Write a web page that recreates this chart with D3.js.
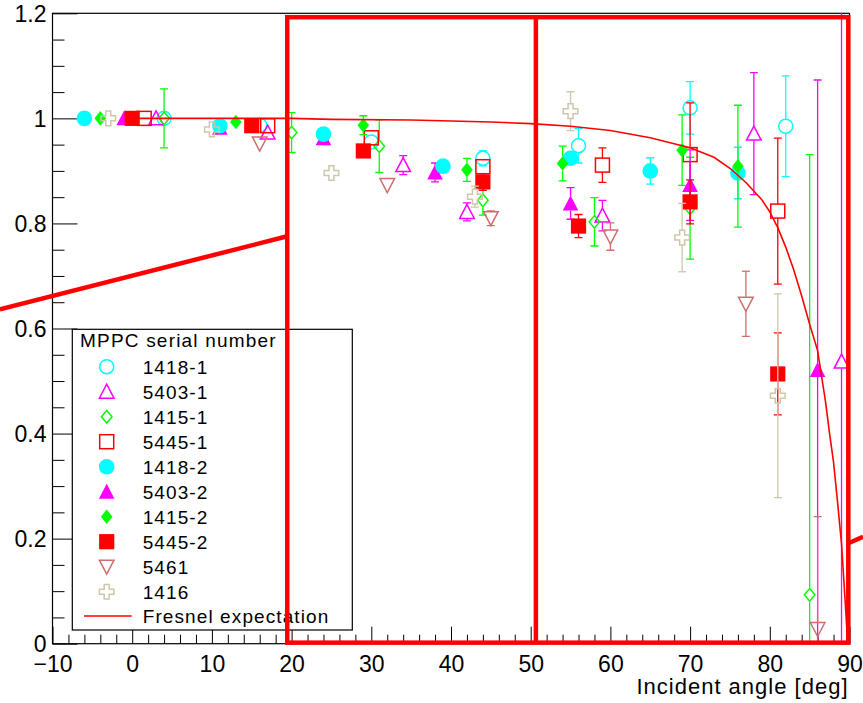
<!DOCTYPE html>
<html>
<head>
<meta charset="utf-8">
<script src="https://cdn.jsdelivr.net/npm/d3@7"></script>
<style>
	body { margin: 0; background: #fff; }
	svg { display: block; font-family: "Liberation Sans", Arial, Helvetica, sans-serif; }
</style>
</head>
<body>
<svg id="chart" width="863" height="703"></svg>
<script>
// each point: [incident angle (deg), relative yield, error]
var s1418_1 = [[4, 1.0, 0.005], [16, 0.987, 0.005], [30, 0.955, 0.01], [44, 0.924, 0.0145], [56, 0.948, 0.033], [70, 1.02, 0.05], [82, 0.985, 0.096]];
var s5403_1 = [[3, 1.0, 0.005], [17, 0.973, 0.01], [34, 0.911, 0.018], [42, 0.822, 0.017], [59, 0.815, 0.029], [78, 0.971, 0.116], [89, 0.537, 0.72]];
var s1415_1 = [[4, 1.0, 0.056], [20, 0.973, 0.038], [31, 0.947, 0.05], [44, 0.844, 0.028], [58, 0.803, 0.046], [70, 0.829, 0.097], [85, 0.093, 0.838]];
var s5445_1 = [[1.5, 1.0, 0.005], [17, 0.986, 0.005], [30, 0.963, 0.01], [44, 0.908, 0.01], [59, 0.911, 0.033], [70, 0.931, 0.0985], [81, 0.8235, 0.139]];
var s1418_2 = [[-6, 1.0, 0.005], [11, 0.986, 0.005], [24, 0.970, 0.01], [39, 0.909, 0.01], [55, 0.924, 0.012], [65, 0.900, 0.025], [76, 0.896, 0.049]];
var s5403_2 = [[-1, 1.0, 0.005], [11, 0.982, 0.005], [24, 0.962, 0.01], [38, 0.897, 0.018], [55, 0.838, 0.03], [70, 0.873, 0.067], [86, 0.521, 0.552]];
var s1415_2 = [[-4, 1.0, 0.005], [13, 0.993, 0.005], [29, 0.987, 0.018], [42, 0.902, 0.022], [54, 0.914, 0.033], [69, 0.9395, 0.067], [76, 0.909, 0.116]];
var s5445_2 = [[0, 1.0, 0.005], [15, 0.986, 0.005], [29, 0.938, 0.01], [44, 0.879, 0.016], [56, 0.795, 0.022], [70, 0.841, 0.042], [81, 0.5135, 0.078]];
var s5461 = [[16, 0.952, 0.005], [32, 0.873, 0.01], [45, 0.81, 0.014], [60, 0.775, 0.026], [77, 0.647, 0.062], [86, 0.028, 0.214]];
var s1416 = [[-3, 1.0, 0.005], [10, 0.979, 0.005], [25, 0.896, 0.01], [43, 0.851, 0.02], [55, 1.0137, 0.037], [69, 0.773, 0.065], [81, 0.472, 0.194]];

var seriesNames = ['1418-1', '5403-1', '1415-1', '5445-1', '1418-2', '5403-2', '1415-2', '5445-2', '5461', '1416'];
var seriesData = [s1418_1, s5403_1, s1415_1, s5445_1, s1418_2, s5403_2, s1415_2, s5445_2, s5461, s1416];
var seriesColors = ['#00ffff', '#ff00ff', '#00ff00', '#ff0000', '#00ffff', '#ff00ff', '#00ff00', '#ff0000', '#cf6e6e', '#cdc7aa'];
var seriesMarkers = ['openCircle', 'openTriUp', 'openDiamond', 'openSquare', 'fullCircle', 'fullTriUp', 'fullDiamond', 'fullSquare', 'openTriDown', 'openCross'];
var drawOrder = [0, 1, 2, 3, 5, 4, 6, 7, 8, 9];

// Fresnel expectation
var fresnelAngle = [0, 20, 25, 35, 40, 45, 50, 55, 60, 65, 70, 73, 75, 77, 79, 80, 81, 82, 83, 84, 85, 86, 87, 87.5, 88, 88.5, 89, 89.5, 89.7, 90];
var fresnelValue = [1.0, 1.0, 0.998, 0.997, 0.995, 0.993, 0.990, 0.985, 0.977, 0.963, 0.944, 0.926, 0.905, 0.878, 0.845, 0.822, 0.792, 0.755, 0.712, 0.662, 0.608, 0.558, 0.46, 0.4, 0.345, 0.27, 0.19, 0.07, 0.02, 0.0];

var xMajor = [-10, 0, 10, 20, 30, 40, 50, 60, 70, 80, 90];
var yMajor = [0, 0.2, 0.4, 0.6, 0.8, 1.0, 1.2];

// red overlay (in data units)
var zoomBox = {x0: 19.45, x1: 89.85, y0: 0.002, y1: 1.1926};
var zoomSplit = 50.65;
var guideLeft = [[-16.6, 0.6366], [19.45, 0.7755]];
var guideRight = [[89.85, 0.1911], [91.7, 0.2037]];

function chart(el)
{
	var frame = {left: 52.5, right: 849.5, top: 13.3, bottom: 643.7};
	var x = d3.scaleLinear().domain([-10, 90]).range([frame.left, frame.right]);
	var y = d3.scaleLinear().domain([0, 1.2]).range([frame.bottom, frame.top]);

	var svg = d3.select(el);

	svg.append('clipPath').attr('id', 'frameclip')
		.append('rect')
		.attr('x', frame.left).attr('y', frame.top)
		.attr('width', frame.right - frame.left).attr('height', frame.bottom - frame.top);

	// ticks (inside the frame, ROOT style)
	var xMinor = d3.range(-10, 91, 2).filter(function(d) { return xMajor.indexOf(d) < 0 });
	var yMinor = d3.range(0, 1.2, 0.05).filter(function(d, i) { return i % 4 != 0 });

	svg.append('g')
		.attr('transform', 'translate(0,' + frame.bottom + ')')
		.call(d3.axisBottom(x).tickValues(xMinor).tickSize(-9).tickFormat(''))
		.call(function(g) { g.select('.domain').remove() });

	svg.append('g')
		.attr('transform', 'translate(0,' + frame.bottom + ')')
		.call(d3.axisBottom(x).tickValues(xMajor).tickSize(-17).tickPadding(12))
		.call(function(g) { g.select('.domain').remove() })
		.attr('font-size', 23).attr('font-family', null);

	svg.append('g')
		.attr('transform', 'translate(' + frame.left + ',0)')
		.call(d3.axisLeft(y).tickValues(yMinor).tickSize(-12).tickFormat(''))
		.call(function(g) { g.select('.domain').remove() });

	svg.append('g')
		.attr('transform', 'translate(' + frame.left + ',0)')
		.call(d3.axisLeft(y).tickValues(yMajor).tickSize(-25).tickPadding(6).tickFormat(d3.format('~g')))
		.call(function(g) { g.select('.domain').remove() })
		.attr('font-size', 23).attr('font-family', null)
		.selectAll('text').attr('dy', '0.36em');

	svg.append('rect')
		.attr('x', frame.left).attr('y', frame.top)
		.attr('width', frame.right - frame.left).attr('height', frame.bottom - frame.top)
		.attr('fill', 'none').attr('stroke', '#000').attr('stroke-width', 1.2);

	svg.append('text')
		.attr('x', x(90) - 1).attr('y', 694)
		.attr('text-anchor', 'end')
		.attr('font-size', 22)
		.style('letter-spacing', '1px')
		.text('Incident angle [deg]');

	// data
	var plot = svg.append('g').attr('clip-path', 'url(#frameclip)');
	var half = 7;

	drawOrder.forEach(function(i) {
		var color = seriesColors[i];
		var pts = plot.append('g').attr('class', 'graph')
			.selectAll('.pt').data(seriesData[i]).enter().append('g')
			.attr('class', 'pt')
			.attr('transform', function(d) { return 'translate(' + x(d[0]) + ',' + y(d[1]) + ')' });

		pts.each(function(d) {
			var p = d3.select(this);
			var e = y(d[1]) - y(d[1] + d[2]);
			if (e > half) {
				[-1, 1].forEach(function(s) {
					p.append('line').attr('x1', 0).attr('x2', 0)
						.attr('y1', s * half).attr('y2', s * e)
						.attr('stroke', color).attr('stroke-width', 1.3);
					p.append('line').attr('x1', -4).attr('x2', 4)
						.attr('y1', s * e).attr('y2', s * e)
						.attr('stroke', color).attr('stroke-width', 1.3);
				});
			}
			marker(p, seriesMarkers[i], color);
		});
	});

	var fresnel = d3.zip(fresnelAngle, fresnelValue);
	plot.append('path')
		.datum(fresnel)
		.attr('fill', 'none')
		.attr('stroke', '#ff0000')
		.attr('stroke-width', 1.6)
		.attr('d', d3.line().x(function(d) { return x(d[0]) }).y(function(d) { return y(d[1]) }));

	// legend
	var lg = {x: 72.3, y: 329.3, w: 280, h: 300.7, row0: 366.7, step: 25, mx: 106.7, tx: 142.7};
	var legend = svg.append('g');
	legend.append('rect')
		.attr('x', lg.x).attr('y', lg.y).attr('width', lg.w).attr('height', lg.h)
		.attr('fill', '#fff').attr('stroke', '#000').attr('stroke-width', 1.2);
	legend.append('text')
		.attr('x', 80).attr('y', 346.7)
		.attr('font-size', 19).style('letter-spacing', '1.2px')
		.text('MPPC serial number');

	seriesNames.forEach(function(name, i) {
		var cy = lg.row0 + i * lg.step;
		var m = legend.append('g').attr('transform', 'translate(' + lg.mx + ',' + cy + ')');
		marker(m, seriesMarkers[i], seriesColors[i]);
		legend.append('text')
			.attr('x', lg.tx).attr('y', cy + 6.8)
			.attr('font-size', 19).style('letter-spacing', '1.1px')
			.text(name);
	});
	var fy = lg.row0 + seriesNames.length * lg.step - 0.7;
	legend.append('line')
		.attr('x1', 84).attr('x2', 131.7).attr('y1', fy).attr('y2', fy)
		.attr('stroke', '#ff0000').attr('stroke-width', 1.6);
	legend.append('text')
		.attr('x', lg.tx).attr('y', fy + 6.8)
		.attr('font-size', 19).style('letter-spacing', '1.1px')
		.text('Fresnel expectation');

	// red overlay on top of everything
	var over = svg.append('g')
		.attr('fill', 'none').attr('stroke', '#ff0000').attr('stroke-width', 4.5);
	over.append('rect')
		.attr('x', x(zoomBox.x0)).attr('y', y(zoomBox.y1))
		.attr('width', x(zoomBox.x1) - x(zoomBox.x0))
		.attr('height', y(zoomBox.y0) - y(zoomBox.y1));
	over.append('line')
		.attr('x1', x(zoomSplit)).attr('x2', x(zoomSplit))
		.attr('y1', y(zoomBox.y1)).attr('y2', y(zoomBox.y0));
	[guideLeft, guideRight].forEach(function(seg) {
		over.append('line')
			.attr('x1', x(seg[0][0])).attr('y1', y(seg[0][1]))
			.attr('x2', x(seg[1][0])).attr('y2', y(seg[1][1]));
	});

	function marker(sel, type, color)
	{
		var open = type.indexOf('open') == 0;
		var shape;
		if (type == 'openCircle')
			shape = sel.append('circle').attr('r', 7);
		else if (type == 'fullCircle')
			shape = sel.append('circle').attr('r', 7.8);
		else if (type == 'openSquare')
			shape = sel.append('rect').attr('x', -7).attr('y', -7).attr('width', 14).attr('height', 14);
		else if (type == 'fullSquare')
			shape = sel.append('rect').attr('x', -7.6).attr('y', -7.6).attr('width', 15.2).attr('height', 15.2);
		else {
			var paths = {
				openTriUp: 'M0,-7.5L7.3,6.5L-7.3,6.5Z',
				fullTriUp: 'M0,-8L7.8,7L-7.8,7Z',
				openTriDown: 'M0,7.5L7.3,-6.5L-7.3,-6.5Z',
				openDiamond: 'M0,-6.3L5.3,0L0,6.3L-5.3,0Z',
				fullDiamond: 'M0,-7.3L5.8,0L0,7.3L-5.8,0Z',
				openCross: 'M-2.5,-7.3H2.5V-2.5H7.3V2.5H2.5V7.3H-2.5V2.5H-7.3V-2.5H-2.5Z'
			};
			shape = sel.append('path').attr('d', paths[type]);
		}
		shape.attr('fill', open ? 'none' : color)
			.attr('stroke', open ? color : 'none')
			.attr('stroke-width', 1.5);
	}
}

chart('#chart');
</script>
</body>
</html>
